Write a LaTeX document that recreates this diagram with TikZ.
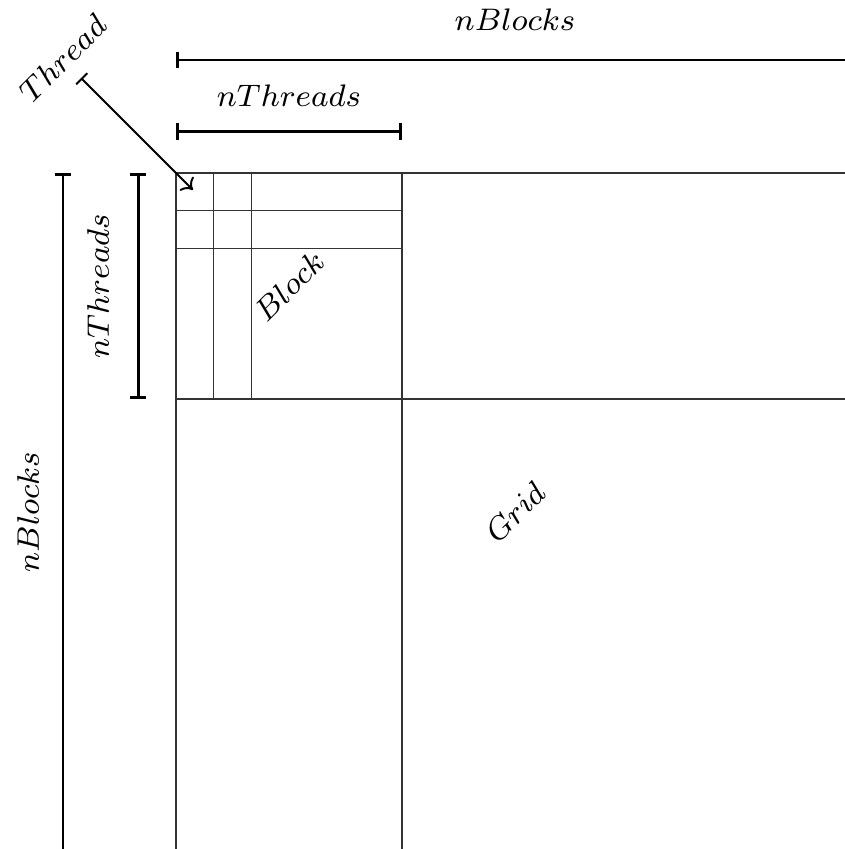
\documentclass[tikz,border=0pt]{standalone}
\usetikzlibrary{arrows.meta,positioning}
\tikzset{
  gridline/.style={line width=0.4pt,black!80},
  dimbar/.style={line width=0.7pt,{Bar[width=4.2pt]}-{Bar[width=4.2pt]}},
  dimopen/.style={line width=0.7pt,{Bar[width=4.2pt]}-},
  ptrarr/.style={line width=0.5pt,{Bar[width=4pt]}-{To[length=2.5pt,width=5pt]}},
  dimlabel/.style={inner sep=1pt,font=\footnotesize},
  celllabel/.style={inner sep=1pt,font=\footnotesize,rotate=45}
}
\begin{document}
\begin{tikzpicture}[x=0.34cm,y=0.34cm]
  \clip (-4.672,4.593) rectangle (17.76,-17.946);

  % grid and first block
  \draw[gridline] (0,0) -- (18.5,0);
  \draw[gridline] (0,-6) -- (18.5,-6);
  \draw[gridline] (0,0) -- (0,-18.5);
  \draw[gridline] (6,0) -- (6,-18.5);
  \foreach \i in {1,2} {
    \draw[gridline] (0,-\i) -- (6,-\i);
    \draw[gridline] (\i,0) -- (\i,-6);
  }

  % dimensions
  \draw[dimopen] (0,3) -- (18.5,3);
  \node[dimlabel] (nbtop) at (9,4.06) {$nBlocks$};
  \draw[dimbar] (0,1.1) -- (6,1.1);
  \node[dimlabel] (nttop) at (3,2.06) {$nThreads$};
  \draw[dimopen] (-3,0) -- (-3,-18.5);
  \node[dimlabel,rotate=90] (nbleft) at (-3.93,-9) {$nBlocks$};
  \draw[dimbar] (-1,0) -- (-1,-6);
  \node[dimlabel,rotate=90] (ntleft) at (-2.07,-3) {$nThreads$};

  % labels
  \node[celllabel] (thread) at (-3.01,3.04) {$Thread$};
  \coordinate (tstart) at (-2.52,2.52);
  \coordinate (cell) at (0.45,-0.45);
  \draw[ptrarr] (tstart) -- (cell);
  \node[celllabel] (block) at (3,-3) {$Block$};
  \node[celllabel] (grid) at (9,-9) {$Grid$};
\end{tikzpicture}
\end{document}
